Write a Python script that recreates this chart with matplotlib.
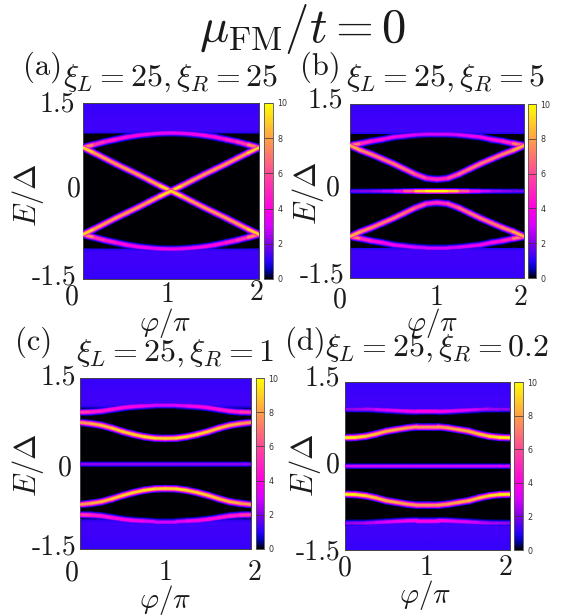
import numpy as np
import matplotlib
matplotlib.use('Agg')
import matplotlib.pyplot as plt
from matplotlib.collections import LineCollection
from matplotlib.cm import ScalarMappable
from matplotlib.colors import Normalize, LinearSegmentedColormap

plt.rcParams['mathtext.fontset'] = 'cm'
plt.rcParams['axes.unicode_minus'] = False

W, H = 571, 616

# phase knots, only 0..1, the spectra are mirrored around phi/pi = 1
phi_half = [0, 0.125, 0.25, 0.375, 0.5, 0.625, 0.75, 0.875, 1]

# band energies E/Delta (upper half, lower half is the negative) and peak intensity
a_outer_E = [0.74, 0.79, 0.84, 0.88, 0.92, 0.95, 0.97, 0.985, 0.99]
a_outer_I = [9, 6, 5, 4.5, 4, 4, 3.5, 3.5, 3.5]
a_inner_E = [0.74, 0.65, 0.555, 0.46, 0.37, 0.28, 0.185, 0.09, 0]
a_inner_I = [10, 8, 7.8, 7.8, 7.8, 7.8, 7.8, 8.5, 10]

b_outer_E = [0.785, 0.82, 0.86, 0.89, 0.93, 0.95, 0.97, 0.98, 0.98]
b_outer_I = [9, 5.5, 4.5, 4, 3.5, 3.5, 3, 3, 3]
b_inner_E = [0.785, 0.70, 0.63, 0.55, 0.47, 0.38, 0.29, 0.22, 0.20]
b_inner_I = [9, 7.5, 7.2, 7, 7, 7, 6.5, 5.5, 4.5]
b_zero_I = [1.8, 2, 2.2, 2.6, 3.2, 5, 8, 10, 10]

c_outer_E = [0.90, 0.905, 0.92, 0.95, 0.98, 1.0, 1.01, 1.02, 1.02]
c_outer_I = [6, 5, 4.5, 4.5, 4, 4, 3.5, 3, 3]
c_inner_E = [0.72, 0.70, 0.67, 0.62, 0.56, 0.51, 0.47, 0.445, 0.44]
c_inner_I = [7.5, 8, 8.5, 8.5, 9, 9, 9, 9.5, 8.5]
c_zero_I = [2.2, 2.2, 2.2, 2.2, 2.2, 2.2, 2.2, 2.2, 2.2]

d_outer_E = [1.02, 1.02, 1.02, 1.01, 1.0, 0.99, 0.98, 0.975, 0.975]
d_outer_I = [2.2, 2.2, 2.5, 2.8, 3.2, 3.4, 3.6, 4, 4]
d_inner_E = [0.505, 0.51, 0.53, 0.57, 0.62, 0.65, 0.68, 0.70, 0.70]
d_inner_I = [10, 9.5, 9, 8.5, 8.5, 8, 8, 7.5, 7.5]
d_zero_I = [3, 3, 3, 3, 3, 3, 3, 3, 3]

# continuum background above the gap, one value per energy row
bg_E = [0.99, 1.03, 1.2, 1.5]
bg_I = [0.9, 1.25, 1.25, 1.15]

titles = [r'$\xi_L=25,\xi_R=25$', r'$\xi_L=25,\xi_R=5$',
          r'$\xi_L=25,\xi_R=1$', r'$\xi_L=25,\xi_R=0.2$']
panel_tags = ['(a)', '(b)', '(c)', '(d)']
bar_ticks = [0, 2, 4, 6, 8, 10]
y_labels = ['1.5', '0', '-1.5']
x_labels = ['0', '1', '2']

# palette of the colour box
palette_levels = [0, 0.5, 1, 2, 3, 4, 6, 8, 10]
palette_colors = ['#000000', '#0000b4', '#2800ff', '#8200e6', '#d800ff', '#ff00e0', '#ff4a98', '#ffa046', '#ffff00']

# layout, all in pixels of the 571x616 picture
panels = [
    dict(box=(83, 103, 259, 279), bar=(264, 273), tag=(23, 67), title=(63, 78), ylab=(28, 195), xlab=(165, 323),
         yt=[(75, 104), (81, 189), (76, 277)], xt=[(72, 297), (168, 295), (257, 293)]),
    dict(box=(350, 104, 524, 278), bar=(528, 536), tag=(300, 67), title=(346, 78), ylab=(308, 193), xlab=(432, 323),
         yt=[(343, 100), (340, 188), (345, 275)], xt=[(340, 300), (437, 298), (521, 298)]),
    dict(box=(80, 378, 251, 549), bar=(256, 264), tag=(15, 342), title=(76, 353), ylab=(28, 465), xlab=(165, 600),
         yt=[(76, 377), (72, 468), (77, 547)], xt=[(72, 573), (166, 573), (255, 573)]),
    dict(box=(345, 382, 510, 550), bar=(514, 523), tag=(285, 342), title=(325, 348), ylab=(305, 465), xlab=(425, 595),
         yt=[(340, 378), (340, 465), (340, 552)], xt=[(345, 568), (427, 568), (506, 568)]),
]

cmap = LinearSegmentedColormap.from_list('box', [(v / 10, c) for v, c in zip(palette_levels, palette_colors)])
norm = Normalize(0, 10)

# glow of a band: width in px and fraction of the peak intensity
glow_widths = [7.5, 6, 4.8, 3.8, 3.0, 2.2]
glow_fracs = [0.12, 0.25, 0.42, 0.62, 0.82, 1.0]


def px_text(fig, x, y, s, size, ha='center', va='center', **kw):
    return fig.text(x / W, 1 - y / H, s, fontsize=size, ha=ha, va=va, color='#1a1a1a', **kw)


def draw_band(ax, phi, E, I, width_scale=1.0):
    pts = np.column_stack([phi, E])
    segs = np.stack([pts[:-1], pts[1:]], axis=1)
    mid_I = 0.5 * (I[:-1] + I[1:])
    for w, f in zip(glow_widths, glow_fracs):
        # dim part of the glow goes under the continuum, so no dark edge above the gap
        z = 1 if f < 0.4 else 3
        lc = LineCollection(segs, colors=cmap(norm(mid_I * f)), linewidths=w * width_scale * 0.72,
                            capstyle='round', zorder=z)
        ax.add_collection(lc)


def full_curve(values):
    return np.concatenate([values, values[-2::-1]])


def draw_panel(fig, p, title, tag, bands):
    x0, y0, x1, y1 = p['box']
    ax = fig.add_axes([x0 / W, 1 - y1 / H, (x1 - x0) / W, (y1 - y0) / H])
    ax.set_facecolor('#000004')
    phi = np.concatenate([phi_half, 2 - np.array(phi_half[-2::-1])])
    bg = np.array(bg_I)[:, None] * np.ones((1, 2))
    for sign in [1, -1]:
        ax.pcolormesh([0, 2], sign * np.array(bg_E), bg, cmap=cmap, norm=norm, shading='gouraud', zorder=2)
    for E, I, scale in bands:
        I = full_curve(np.array(I, dtype=float))
        E = full_curve(np.array(E, dtype=float))
        draw_band(ax, phi, E, I, scale)
        if np.any(E != 0):
            draw_band(ax, phi, -E, I, scale)
    ax.set_xlim(0, 2)
    ax.set_ylim(-1.5, 1.5)
    ax.set_xticks([0.5, 1, 1.5])
    ax.set_yticks([])
    ax.tick_params(axis='x', direction='in', length=2.5, width=0.7, top=True, labelbottom=False, color='#222222')
    for s in ax.spines.values():
        s.set_linewidth(0.7)
        s.set_color('#444444')

    # colour box
    bx0, bx1 = p['bar']
    cax = fig.add_axes([bx0 / W, 1 - y1 / H, (bx1 - bx0) / W, (y1 - y0) / H])
    cb = fig.colorbar(ScalarMappable(norm=norm, cmap=cmap), cax=cax, ticks=bar_ticks)
    cax.tick_params(direction='in', length=(bx1 - bx0) * 0.72, width=0.5, color='#333333', labelsize=5.8,
                    labelcolor='#333333', pad=3)
    cb.outline.set_linewidth(0.6)
    cb.outline.set_edgecolor('#555555')

    # all big labels are pasted by hand in the original
    px_text(fig, p['tag'][0], p['tag'][1], tag, 22, ha='left', family='cmr10')
    px_text(fig, p['title'][0], p['title'][1], title, 23, ha='left')
    px_text(fig, p['ylab'][0], p['ylab'][1], r'$E/\Delta$', 22, rotation=90)
    px_text(fig, p['xlab'][0], p['xlab'][1], r'$\varphi/\pi$', 21)
    for (tx, ty), s in zip(p['yt'], y_labels):
        px_text(fig, tx, ty, s, 20, ha='right', family='cmr10')
    for (tx, ty), s in zip(p['xt'], x_labels):
        px_text(fig, tx, ty, s, 20, family='cmr10')
    return ax


fig = plt.figure(figsize=(W / 100, H / 100), dpi=100)
px_text(fig, 302, 29, r'$\mu_{\mathrm{FM}}/t=0$', 35)

zero_E = [0] * len(phi_half)
panel_bands = [
    [(a_outer_E, a_outer_I, 1.0), (a_inner_E, a_inner_I, 1.0)],
    [(b_outer_E, b_outer_I, 1.0), (b_inner_E, b_inner_I, 1.0), (zero_E, b_zero_I, 0.8)],
    [(c_outer_E, c_outer_I, 1.0), (c_inner_E, c_inner_I, 1.0), (zero_E, c_zero_I, 0.8)],
    [(d_outer_E, d_outer_I, 1.0), (d_inner_E, d_inner_I, 1.0), (zero_E, d_zero_I, 0.8)],
]
for p, title, tag, bands in zip(panels, titles, panel_tags, panel_bands):
    draw_panel(fig, p, title, tag, bands)

plt.savefig('out.png', dpi=100)
plt.close(fig)
